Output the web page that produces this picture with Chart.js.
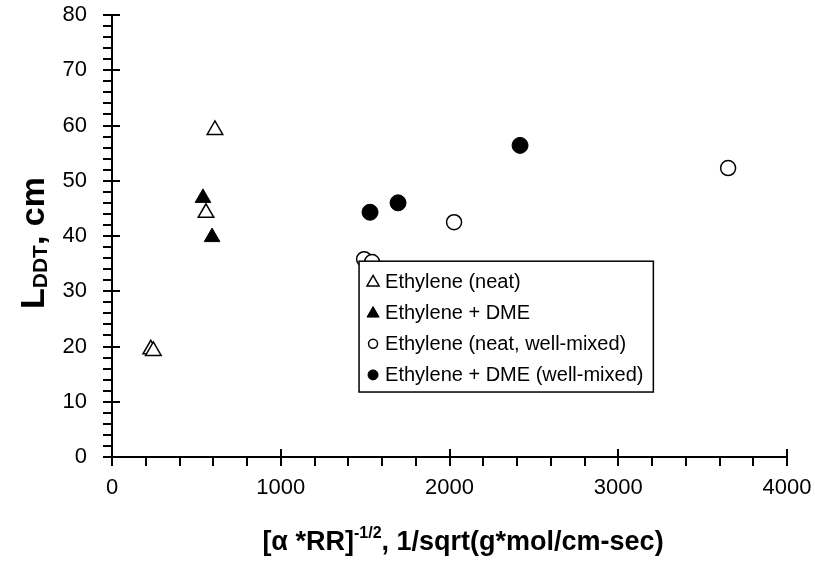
<!DOCTYPE html>
<html>
<head>
<meta charset="utf-8">
<script src="https://cdn.jsdelivr.net/npm/chart.js@4.4.1/dist/chart.umd.min.js"></script>
<style>
  html, body { margin: 0; padding: 0; background: #fff; }
  #wrap { width: 815px; height: 563px; }
</style>
</head>
<body>
<div id="wrap"><canvas id="ddtChart" width="815" height="563"></canvas></div>
<script>
// data
const neatX = [230, 245, 557, 610];
const neatY = [19.5, 19.2, 44.2, 59.2];
const dmeX = [539, 593];
const dmeY = [46.9, 39.8];
const neatMixedX = [1494, 1541, 2027, 3651];
const neatMixedY = [35.8, 35.3, 42.5, 52.3];
const dmeMixedX = [1529, 1695, 2418];
const dmeMixedY = [44.3, 46.0, 56.4];

const xTicks = [0, 1000, 2000, 3000, 4000];
const yTicks = [0, 10, 20, 30, 40, 50, 60, 70, 80];
const seriesNames = ["Ethylene (neat)", "Ethylene + DME", "Ethylene (neat, well-mixed)", "Ethylene + DME (well-mixed)"];

const FONT = 'Arial, "Liberation Sans", sans-serif';
Chart.defaults.font.family = FONT;
Chart.defaults.color = '#000';

function pts(xs, ys) {
  return xs.map((x, i) => ({ x: x, y: ys[i] }));
}

const datasets = [
  { label: seriesNames[0], data: pts(neatX, neatY), pointStyle: 'triangle', pointRadius: 9,
    backgroundColor: '#fff', borderColor: '#000', borderWidth: 1.5, legendRadius: 7 },
  { label: seriesNames[1], data: pts(dmeX, dmeY), pointStyle: 'triangle', pointRadius: 9,
    backgroundColor: '#000', borderColor: '#000', borderWidth: 1, legendRadius: 7 },
  { label: seriesNames[2], data: pts(neatMixedX, neatMixedY), pointStyle: 'circle', pointRadius: 7.5,
    backgroundColor: '#fff', borderColor: '#000', borderWidth: 1.5, legendRadius: 4.5 },
  { label: seriesNames[3], data: pts(dmeMixedX, dmeMixedY), pointStyle: 'circle', pointRadius: 8,
    backgroundColor: '#000', borderColor: '#000', borderWidth: 1, legendRadius: 5 }
];

// minor/major tick marks, titles and the boxed legend
const decor = {
  id: 'decor',
  afterDraw(chart) {
    const ctx = chart.ctx;
    const xs = chart.scales.x, ys = chart.scales.y;
    const ca = chart.chartArea;
    ctx.save();
    ctx.strokeStyle = '#000';
    ctx.lineWidth = 2;
    // y ticks
    for (let v = 0; v <= 80; v += 2) {
      const py = Math.round(ys.getPixelForValue(v));
      const major = v % 10 === 0;
      ctx.beginPath();
      ctx.moveTo(ca.left - 9, py);
      ctx.lineTo(major ? ca.left + 8 : ca.left, py);
      ctx.stroke();
    }
    // x ticks
    for (let v = 0; v <= 4000; v += 200) {
      const px = Math.round(xs.getPixelForValue(v));
      const major = v % 1000 === 0;
      ctx.beginPath();
      ctx.moveTo(px, major ? ca.bottom - 8 : ca.bottom);
      ctx.lineTo(px, ca.bottom + 9);
      ctx.stroke();
    }

    // y title: L_DDT, cm
    ctx.fillStyle = '#000';
    ctx.translate(44, 243);
    ctx.rotate(-Math.PI / 2);
    const big = 'bold 34px ' + FONT, small = 'bold 21px ' + FONT;
    ctx.font = big; const wL = ctx.measureText('L').width;
    ctx.font = small; const wS = ctx.measureText('DDT').width;
    ctx.font = big; const wC = ctx.measureText(', cm').width;
    let sx = -(wL + wS + wC) / 2;
    ctx.textBaseline = 'alphabetic';
    ctx.textAlign = 'left';
    ctx.font = big; ctx.fillText('L', sx, 0); sx += wL;
    ctx.font = small; ctx.fillText('DDT', sx, 3); sx += wS;
    ctx.font = big; ctx.fillText(', cm', sx, 0);
    ctx.setTransform(1, 0, 0, 1, 0, 0);

    // x title: [α*RR]^-1/2, 1/sqrt(g*mol/cm-sec)
    const tb = 'bold 27px ' + FONT, ts = 'bold 16px ' + FONT;
    const parts = [['[\u03b1 *RR]', tb, 0], ['-1/2', ts, -12], [', 1/sqrt(g*mol/cm-sec)', tb, 0]];
    let tw = 0;
    parts.forEach(p => { ctx.font = p[1]; p.push(ctx.measureText(p[0]).width); tw += p[3]; });
    let tx = 463 - tw / 2;
    parts.forEach(p => { ctx.font = p[1]; ctx.fillText(p[0], tx, 550 + p[2]); tx += p[3]; });

    // legend box inside the plot
    const lx = ca.left + 0.366 * (ca.right - ca.left);
    const lr = ca.left + 0.802 * (ca.right - ca.left);
    const ly = ca.top + 0.557 * (ca.bottom - ca.top);
    const lb = ca.top + 0.853 * (ca.bottom - ca.top);
    ctx.fillStyle = '#fff';
    ctx.fillRect(lx, ly, lr - lx, lb - ly);
    ctx.lineWidth = 1.5;
    ctx.strokeRect(lx, ly, lr - lx, lb - ly);
    ctx.font = '20px ' + FONT;
    ctx.textBaseline = 'middle';
    const rowH = (lb - ly) / 4.2;
    chart.data.datasets.forEach((ds, i) => {
      const cy = ly + rowH * (0.65 + i);
      ctx.fillStyle = ds.backgroundColor;
      ctx.strokeStyle = ds.borderColor;
      ctx.lineWidth = ds.borderWidth;
      Chart.helpers.drawPoint(ctx, { pointStyle: ds.pointStyle, radius: ds.legendRadius, borderWidth: ds.borderWidth }, lx + 14, cy + (ds.pointStyle === 'triangle' ? 1 : 0));
      ctx.fillStyle = '#000';
      ctx.fillText(ds.label, lx + 26, cy + 1);
    });
    ctx.restore();
  }
};

new Chart(document.getElementById('ddtChart'), {
  type: 'scatter',
  data: { datasets: datasets },
  options: {
    responsive: false,
    animation: false,
    layout: { padding: { left: 0, top: 15, right: 28, bottom: 0 } },
    plugins: { legend: { display: false }, tooltip: { enabled: false } },
    scales: {
      x: {
        type: 'linear', min: 0, max: 4000,
        afterBuildTicks: s => { s.ticks = xTicks.map(v => ({ value: v })); },
        afterFit: s => { s.height = 106; s.paddingLeft = 0; s.paddingRight = 0; },
        grid: { display: false, drawTicks: false },
        border: { display: true, color: '#000', width: 2 },
        ticks: { padding: 18, font: { size: 22 }, color: '#000', maxRotation: 0, callback: v => String(v) }
      },
      y: {
        type: 'linear', min: 0, max: 80,
        afterBuildTicks: s => { s.ticks = yTicks.map(v => ({ value: v })); },
        afterFit: s => { s.width = 112; s.paddingTop = 0; s.paddingBottom = 0; },
        grid: { display: false, drawTicks: false },
        border: { display: true, color: '#000', width: 2 },
        ticks: { padding: 25, font: { size: 22 }, color: '#000', callback: v => String(v) }
      }
    }
  },
  plugins: [decor]
});
</script>
</body>
</html>
